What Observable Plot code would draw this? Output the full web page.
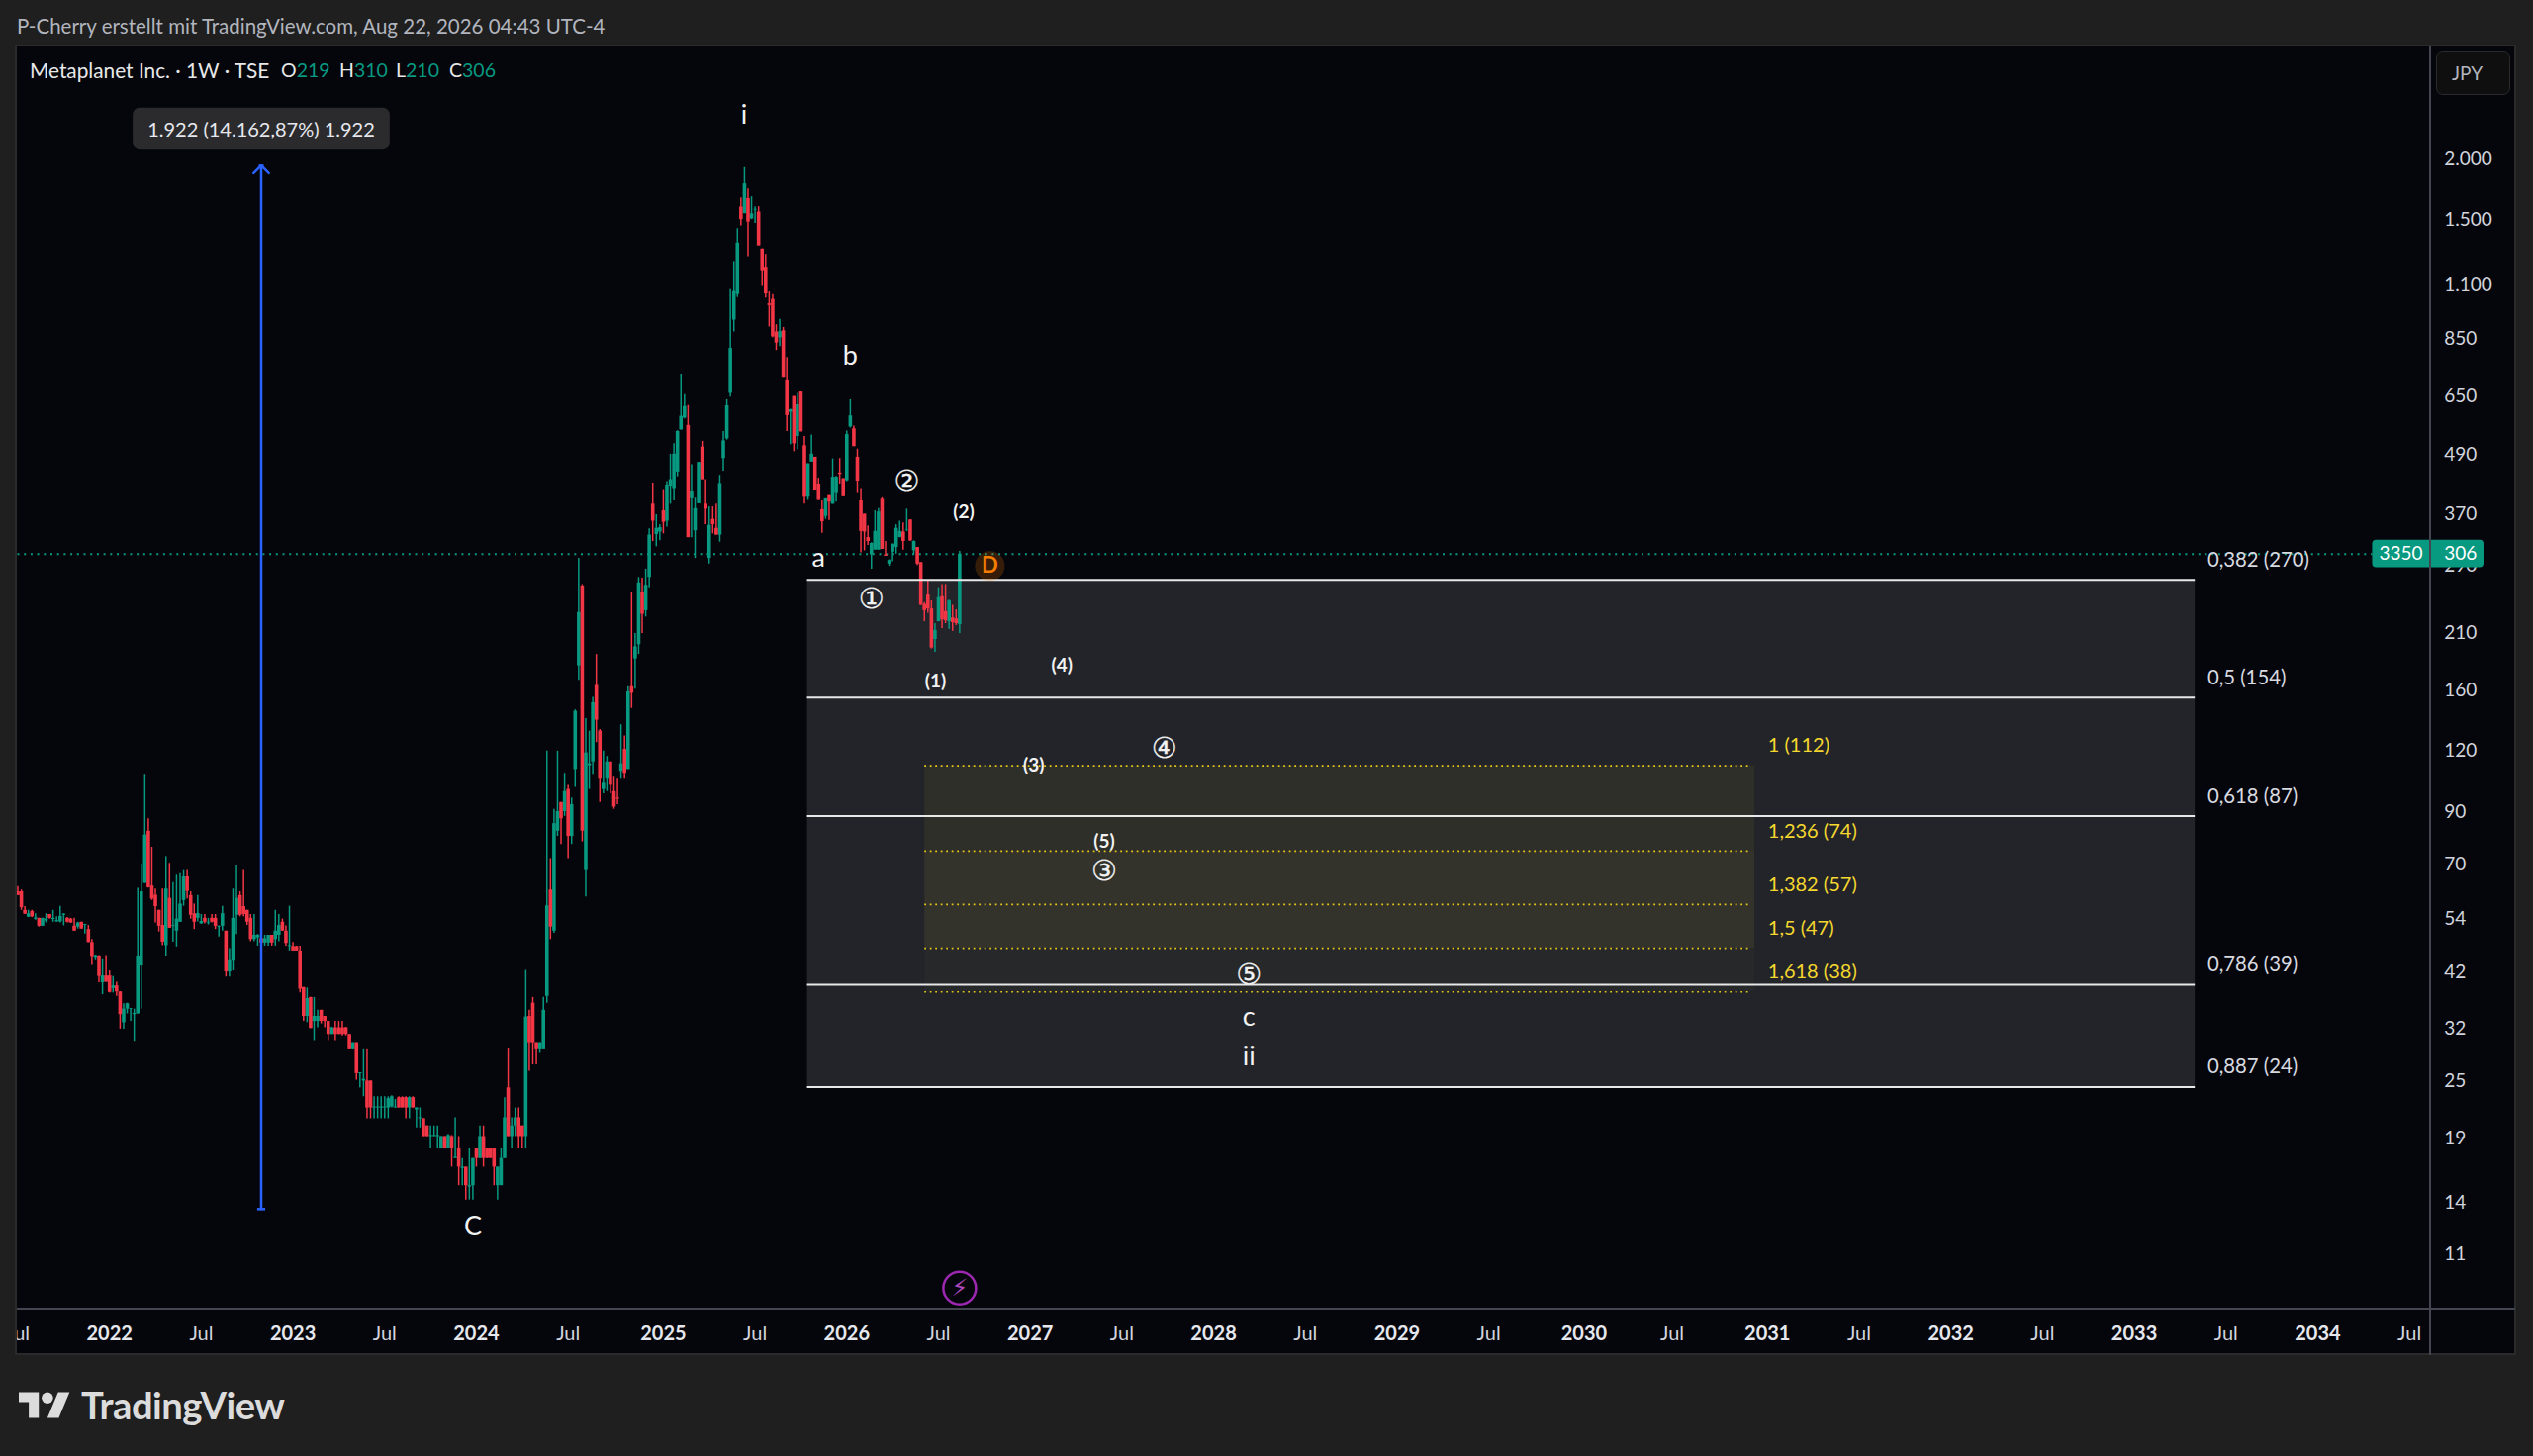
<!DOCTYPE html>
<html><head><meta charset="utf-8">
<script src="https://cdn.jsdelivr.net/npm/d3@7"></script>
<script src="https://cdn.jsdelivr.net/npm/@observablehq/plot@0.6"></script>
<style>
html,body{margin:0;padding:0;background:#1f1f1f;width:2560px;height:1472px;overflow:hidden;font-family:Lato,sans-serif}
.a{position:absolute;white-space:pre}
#chart svg{position:absolute;left:0;top:0;background:transparent}
</style></head><body>
<div class="a" style="left:15px;top:45px;width:2528px;height:1325px;background:#05060c;box-sizing:border-box;border:2px solid #2a2a2a"></div>
<div id="chart"></div>
<div class="a" style="left:0;top:47px;width:15px;height:1322px;background:#1f1f1f"></div>
<div class="a" style="left:15px;top:47px;width:2px;height:1322px;background:#2a2a2a"></div>
<div class="a" style="left:2455px;top:46px;width:2px;height:1324px;background:#434651"></div>
<div class="a" style="left:17px;top:1322px;width:2525px;height:2px;background:#434651"></div>
<div class="a" style="left:17px;top:14px;font-size:20.5px;line-height:24px;color:#b2b5be" id="hdr">P-Cherry erstellt mit TradingView.com, Aug 22, 2026 04:43 UTC-4</div>
<div class="a" style="left:30px;top:59px;font-size:20.8px;line-height:24px;color:#e8e8e8">Metaplanet Inc. · 1W · TSE</div>
<div class="a" style="left:284px;top:59px;font-size:19.5px;line-height:24px;color:#e8e8e8">O<span style="color:#089981">219</span></div>
<div class="a" style="left:343px;top:59px;font-size:19.5px;line-height:24px;color:#e8e8e8">H<span style="color:#089981">310</span></div>
<div class="a" style="left:400px;top:59px;font-size:19.5px;line-height:24px;color:#e8e8e8">L<span style="color:#089981">210</span></div>
<div class="a" style="left:454px;top:59px;font-size:19.5px;line-height:24px;color:#e8e8e8">C<span style="color:#089981">306</span></div>
<div class="a" style="left:2462px;top:52px;width:61px;padding-right:12px;height:42px;background:#0f0f0f;border:1.5px solid #2a2a2a;border-radius:7px;color:#b2b5be;font-size:19px;line-height:42px;text-align:center">JPY</div>
<svg class="a" style="left:19px;top:1407px" width="52" height="27" viewBox="0 4 36 18"><path fill="#dcdcdc" d="M14 22H7V11H0V4h14v18zM28 22h-8l7.5-18h8L28 22z"/><circle fill="#dcdcdc" cx="20" cy="8" r="4"/></svg>
<div class="a" style="left:82px;top:1397px;font-size:38.2px;line-height:46px;font-weight:700;color:#dcdcdc;letter-spacing:-0.5px">TradingView</div>
<script>
const firstWeek = "2021-07-05";
const opens = [
61.5,61.5,56.3,54.5,56,54,54.2,52.2,53.5,55.2,
53.9,53.3,53.3,55,54.2,54,52.2,52,53.2,52.4,
51.4,48.3,44.8,45.3,39.9,41.2,41.2,38.8,39.3,38.2,
33,35.2,35.2,34.3,34.4,43.2,64,82,63.2,60.5,
56.3,52.4,47.6,59.6,52.2,51,53.2,59,66,60.4,
55.4,54.2,52.8,54.2,53,54.2,54.2,52,52.2,51,
42,44.2,55,60.4,57.3,56.3,54.2,49,49.4,49.2,
48.2,48.2,50,49,50,53.2,51,47.4,47.4,47.4,
46.4,39,34,37.2,33.2,33.2,35,34,33.2,31.2,
32.2,32.2,32.2,32.2,31.2,29,30,25.9,25,25,
25,22,22,22,22,22,22.1,22,23.1,23.1,
23.1,22,23.1,21.8,20.9,20.9,20.2,19.2,19.2,19.2,
18.1,19.2,18.1,19.2,17.3,18.1,16.5,16.6,15.1,15.2,
18.1,17.3,19.2,18.1,18.1,18.1,15.2,15.2,17.3,24.2,
19.2,20.2,21,20.2,19.2,34,36.2,30,29,29,
37.4,62,51,82,94,90,100,80,110,180,
263,68,112,114,164,132,100,105,114,99,
96,109,121,110,163,186,199,255,234,274,
388,336,340,376,358,423,418,452,552,584,
564,400,342,389,509,388,300,361,346,335,
482,529,660,930,1055,1597,1548,1663,1510,1575,
1560,1303,1195,1009,1031,879,855,884,700,600,
650,535,664,512,403,474,485,427,378,366,
406,388,410,450,438,434,560,555,485,396,
370,331,305,312,312,399,305,292,309,316,
331,340,342,360,311,316,294,241,252,236,
204,222,250,233,222,226,225,219];
const highs = [
63,62,57.3,56.3,56.3,55.4,54.2,54.2,55.4,55.2,
56.3,54.6,57.4,55.4,54.4,54.2,54.2,53.2,53.2,52.7,
52.4,49,45.5,45.4,44.5,45.4,42.2,41.1,40,38.2,
36.1,36.2,35.3,35.2,62.5,70.2,107,87,76,62.3,
56.3,62.3,72.7,70.4,64.2,66.5,67,68,68,61.5,
58,60.4,55.2,55.2,54.2,55.2,55.2,52.3,57.4,51,
46.9,62.3,69.5,61.5,68,56.3,55.2,55.2,50.2,50.2,
50,50,50,56.3,55.2,54,52.3,57.4,48.3,47.5,
47.5,39,38.9,37.2,37.2,35,35,34,33.2,32.3,
33.2,33.2,33.2,32.3,31.2,30,30,26,29,29,
25,23.2,23.2,23.2,23.2,23.2,23.3,22.9,23.2,23.2,
23.2,23.2,23.2,22,22,20.9,20.2,20.2,20.2,20.2,
19.2,19.2,19.4,19.3,21,19.2,17.3,16.6,18.1,17.3,
18.1,20.2,20.2,18.1,18.1,18.1,16.6,18.1,23.1,29.1,
21,22,22,20.2,42.3,35,37.2,30,30,37.2,
120,72,91,120,94,108,102,96,146,300,
265,140,132,155,190,133,120,117,114,106,
105,136,129,163,255,210,274,273,285,345,
429,369,352,416,432,492,517,550,720,656,
623,468,401,473,523,436,383,383,388,445,
548,640,1080,1228,1435,1668,1925,1741,1677,1600,
1600,1303,1270,1068,1055,910,933,898,779,612,
650,660,664,535,470,539,485,439,396,400,
406,481,443,482,438,549,640,562,504,418,
370,350,323,376,380,402,325,298,321,352,
358,355,379,360,326,316,294,243,270,245,
220,261,265,265,246,240,235,310];
const lows = [
60.4,56.3,55.2,54.4,54.4,53.7,52,52.2,53,54,
53.2,53.2,53,52.3,53,53,51,51.5,51.5,50.3,
48.3,43.3,44.3,39.9,37.7,40,38,38,37.4,32,
32,34.4,33.2,30.2,34.4,35.2,64,62.6,59,53,
50.8,47.6,45.2,51.7,48.4,47.3,53.2,57.4,59.4,54,
51.4,53.3,52.7,52.8,52.5,53,51.4,49.6,51,41,
41,42.2,50.2,54.6,54.6,52.4,48.5,48.5,47.5,47.5,
47.5,47.5,47.5,47.5,48.5,51,47.5,46.4,46.4,46.4,
38,33.2,33,32.1,30.3,32.2,32.8,32.2,30.3,31.2,
30.3,31.2,31,31,29,29,25.1,24.2,23.2,20.9,
20.9,20.9,20.9,20.9,20.9,20.9,22,22,22,22,
20.9,20.9,22,20,20,19.2,19.2,18.1,19.2,18.1,
18.1,18.1,18.1,16.6,17.3,15.2,15.2,14.2,14.2,14.2,
16.6,17.3,16.6,17.3,17.3,15.2,14.2,15.2,17.3,19.2,
18.1,19.2,18.1,18.1,18.1,26.2,27,27,28.5,29,
36.2,49,50.5,80,77,88,72,77,101,168,
78,60,100,107,125,94,98,99,98,91,
93,105,105,110,147,161,190,210,227,261,
325,317,326,337,348,388,394,442,552,582,
331,331,300,389,436,352,292,337,335,324,
454,526,648,879,1040,1460,1548,1256,1505,1478,
1323,1097,1038,900,855,805,820,709,548,515,
498,503,547,388,397,474,415,397,338,361,
359,388,392,427,404,432,557,510,410,308,
311,319,285,312,312,313,303,289,295,306,
331,312,341,325,305,290,240,222,231,195,
192,222,215,220,214,212,218,210];
const closes = [
60.4,57,55.3,55.4,54.6,54.3,52.2,54.2,54,54.2,
54.2,53.6,54.7,55.3,53.2,53,51,53,51.5,52.6,
48.3,45,45.4,41.1,41.2,40,38.1,39.3,38.2,34.3,
35.2,36.1,35.3,34.5,45.2,61.5,80.5,62.7,59.4,57.3,
52.2,48.4,62.3,51.7,52.4,54,58,66,61.6,55,
53.2,55.4,53.4,53.2,53.2,53.2,52.2,52.2,55.4,42,
44.3,54.2,59.6,55,55.2,53.2,49,50,50,48.2,
49.2,50,48.2,51,52.4,51,48.1,47.6,46.4,46.4,
38.7,34,37,32.1,34,34,33.2,33.2,31.2,32.2,
31.2,31.2,31.2,31.2,29,30,25.9,26,25.2,22,
22,22.1,22.1,22.1,22.1,23,23.2,22.1,22,22,
22,23.1,22,22,21,19.2,19.2,19.3,19.3,19.3,
19.2,18.1,19.3,18.1,17.4,16.6,16.6,15.2,15.2,17.3,
17.3,19.2,17.3,17.3,17.3,16.6,16.6,17.3,21,19.2,
20.2,21,19.2,19.2,33.9,30,30,29,30,35,
57.5,52,85,90,87,99,80,93,145,232,
82,119,113,151,139,105,103,114,102,92,
95.5,113,108,159,158,197,267,230,264,335,
358,346,347,356,425,436,492,548,589,620,
331,413,380,473,436,379,351,352,335,428,
524,622,813,1070,1340,1505,1783,1488,1547,1580,
1323,1176,1058,1001,859,834,880,709,591,610,
517,625,547,403,470,492,415,397,357,400,
392,441,441,447,404,540,590,510,433,341,
340,325,322,341,374,313,303,297,321,346,
341,325,343,326,325,292,240,234,236,196,
213,249,224,223,245,221,220,306];

const priceTicks = [2000,1500,1100,850,650,490,370,290,210,160,120,90,70,54,42,32,25,19,14,11];
const yearTicks = ["2022-01-03","2023-01-02","2024-01-01","2025-01-06","2026-01-05","2027-01-04","2028-01-03","2029-01-01","2030-01-07","2031-01-06","2032-01-05","2033-01-03","2034-01-02"];
const julyTicks = ["2021-07-05","2022-07-04","2023-07-03","2024-07-01","2025-07-07","2026-07-06","2027-07-05","2028-07-03","2029-07-02","2030-07-01","2031-07-07","2032-07-05","2033-07-04","2034-07-03"];

const fibLevels = [271,154.7,88.1,39.5,24.3];
const fibText = ["0,382 (270)","0,5 (154)","0,618 (87)","0,786 (39)","0,887 (24)"];
const extLevels = [112,74.6,57.9,47,38.2];
const extText = ["1 (112)","1,236 (74)","1,382 (57)","1,5 (47)","1,618 (38)"];

const waveBig = [["i","2025-06-15",2468],["b","2026-01-12",783],["C","2023-12-25",12.5],["a","2025-11-10",300],["c","2028-03-13",33.8],["ii","2028-03-13",28]];
const waveParen = [["(2)","2026-08-25",374],["(1)","2026-06-30",167],["(4)","2027-03-08",180],["(3)","2027-01-11",112],["(5)","2027-05-31",77.9]];
const waveRound = [["①","2026-02-23",247],["②","2026-05-04",433],["④","2027-09-27",121.6],["③","2027-05-31",67.9],["⑤","2028-03-13",41.4]];

const T = s => new Date(s + "T00:00:00Z");
const start = T(firstWeek);
const axisEnd = T("2034-08-14");
const priceLabelX = T("2034-09-10");
const candles = opens.map((o,i)=>({date:d3.utcDay.offset(start,7*i),o,h:highs[i],l:lows[i],c:closes[i]}));
const up = candles.filter(d=>d.c>=d.o), down = candles.filter(d=>d.c<d.o);
const dotLoc = d3.formatLocale({decimal:",",thousands:".",grouping:[3],currency:["","JPY"]}).format(",d");
const FONT = "Lato, sans-serif";
const fibX1 = T("2025-10-19"), fibX2 = T("2033-05-04"), extX1 = T("2026-06-09"), extX2 = T("2030-12-12");
const arrowX = T("2022-10-31");
const GREEN="#089981", RED="#f23645", AXIS="#d1d4dc", YEL="#f5d72e";
const row = a => a.map(([t,x,y])=>({t,x:T(x),y}));

const chart = Plot.plot({
  width:2560,height:1472,marginLeft:17,marginRight:104,marginTop:46,marginBottom:149,
  style:{background:"transparent",fontFamily:FONT},
  x:{type:"utc",domain:[T("2021-07-04"),axisEnd]},
  y:{type:"log",domain:[8.45,3430]},
  marks:[
    Plot.axisX({ticks:yearTicks.map(T),tickFormat:"%Y",tickSize:0,tickPadding:17,fontSize:20,fontWeight:"bold",fill:"#e6e8ee",label:null}),
    Plot.axisX({ticks:julyTicks.map(T),tickFormat:()=>"Jul",tickSize:0,tickPadding:17,fontSize:20,fill:"#d1d4dc",label:null}),
    Plot.text(priceTicks.map(p=>({p,x:priceLabelX,t:dotLoc(p)})),{x:"x",y:"p",text:"t",textAnchor:"start",fontSize:19,fill:AXIS}),
    // fib retracement block
    Plot.rect([0],{x1:fibX1,x2:fibX2,y1:fibLevels[0],y2:fibLevels[4],fill:"#22242a"}),
    Plot.rect([[extLevels[0],extLevels[1],0.06],[extLevels[1],extLevels[3],0.08],[extLevels[3],extLevels[4],0.02]],
      {x1:extX1,x2:extX2,y1:d=>d[0],y2:d=>d[1],fill:"#ffe83b",fillOpacity:d=>d[2]}),
    Plot.ruleY([closes[closes.length-1]],{stroke:GREEN,strokeWidth:2,strokeDasharray:"2 4.7",x1:start,x2:T("2034-04-21")}),
    // candles
    Plot.ruleX(up,{x:"date",y1:"l",y2:"h",stroke:GREEN,strokeWidth:1.5}),
    Plot.ruleX(down,{x:"date",y1:"l",y2:"h",stroke:RED,strokeWidth:1.5}),
    Plot.ruleX(up,{x:"date",y1:"o",y2:"c",stroke:GREEN,strokeWidth:3.6}),
    Plot.ruleX(down,{x:"date",y1:"o",y2:"c",stroke:RED,strokeWidth:3.6}),
    // levels
    Plot.ruleY(fibLevels,{x1:fibX1,x2:fibX2,stroke:"#e8e8e8",strokeWidth:2}),
    Plot.ruleY(extLevels,{x1:extX1,x2:T("2030-12-05"),stroke:"#e6c617",strokeWidth:1.7,strokeDasharray:"1.8 3.7"}),
    Plot.text(fibLevels,{y:d=>d,x:T("2033-05-28"),text:(d,i)=>fibText[i],textAnchor:"start",dy:-20,fontSize:20.3,fill:"#d8dae0"}),
    Plot.text(extLevels,{y:d=>d,x:T("2031-01-07"),text:(d,i)=>extText[i],textAnchor:"start",dy:-20,fontSize:20,fill:YEL}),
    // measure arrow
    Plot.arrow([0],{x1:arrowX,x2:arrowX,y1:13.6,y2:1944,stroke:"#2962ff",strokeWidth:2.5,headLength:6.5,headAngle:90,bend:false}),
    Plot.link([0],{x1:T("2022-10-23"),x2:T("2022-11-08"),y1:13.6,y2:13.6,stroke:"#2962ff",strokeWidth:2.5}),
    Plot.link([0],{x1:T("2022-10-26"),x2:T("2022-11-05"),y1:1944,y2:1944,stroke:"#2962ff",strokeWidth:2}),
    Plot.rect([0],{x1:T("2022-02-19"),x2:T("2023-07-14"),y1:2554,y2:2092,fill:"#2b2b2d",rx:7}),
    Plot.text([0],{x:arrowX,y:2300,text:()=>"1.922 (14.162,87%) 1.922",fontSize:20,fill:"#e6e8ee"}),
    // wave labels
    Plot.text(row(waveBig),{x:"x",y:"y",text:"t",fontSize:27,fill:"#f2f2f2"}),
    Plot.text(row(waveParen),{x:"x",y:"y",text:"t",fontSize:19,fontWeight:"bold",fill:"#f2f2f2"}),
    Plot.text(row(waveRound),{x:"x",y:"y",text:"t",fontSize:29,fontFamily:"DejaVu Sans",fill:"#f2f2f2",stroke:"#f2f2f2",strokeWidth:0.25}),
    // dividend + earnings badges
    Plot.dot([0],{x:T("2026-10-16"),y:289.4,r:15,fill:"#f57c00",fillOpacity:0.2}),
    Plot.text([0],{x:T("2026-10-16"),y:289.4,text:()=>"D",fontSize:22,fontWeight:"bold",fill:"#f57c00"}),
    Plot.dot([0],{x:T("2026-08-17"),y:9.34,r:16.5,stroke:"#9c27b0",strokeWidth:2.5,fill:"none"}),
    Plot.text([0],{x:T("2026-08-17"),y:9.34,text:()=>"⚡",fontSize:24,fontFamily:"DejaVu Sans",fill:"#ab47bc"}),
    // last-price badge
    Plot.rect([0],{x1:T("2034-04-21"),x2:T("2034-11-28"),y1:327,y2:286.8,fill:GREEN,rx:4}),
    Plot.text([0],{x:T("2034-06-16"),y:306,text:()=>"3350",fontSize:19,fill:"#fff"}),
    Plot.text([0],{x:priceLabelX,y:306,text:()=>"306",textAnchor:"start",fontSize:19,fill:"#fff"})
  ]
});
document.getElementById("chart").append(chart);
</script>
</body></html>
